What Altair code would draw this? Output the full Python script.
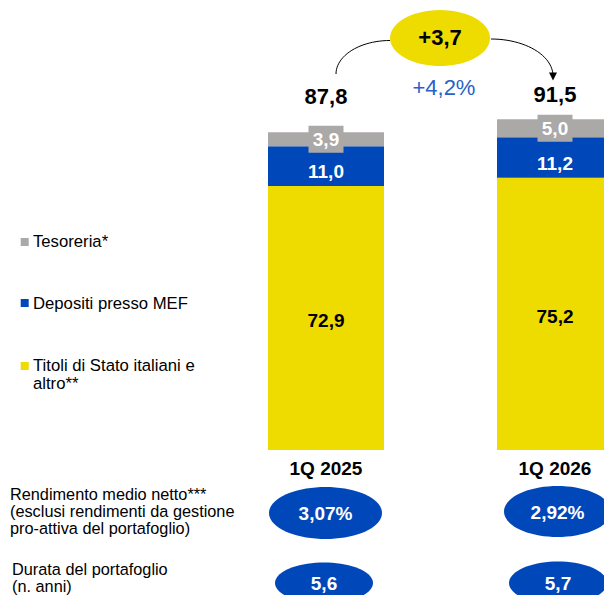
import math
import altair as alt
import pandas as pd

# ---------------- data ----------------
categories = ["1Q 2025", "1Q 2026"]
series = ["Titoli di Stato italiani e altro**", "Depositi presso MEF", "Tesoreria*"]
titoli = [72.9, 75.2]
depositi = [11.0, 11.2]
tesoreria = [3.9, 5.0]
totals = [87.8, 91.5]
delta_abs = 3.7
delta_pct = 4.2
rendimento = [3.07, 2.92]
durata = [5.6, 5.7]

legend_lines = [["Tesoreria*"], ["Depositi presso MEF"], ["Titoli di Stato italiani e", "altro**"]]
row_labels = [["Rendimento medio netto***", "(esclusi rendimenti da gestione", "pro-attiva del portafoglio)"],
              ["Durata del portafoglio", "(n. anni)"]]

# ---------------- style ----------------
YELLOW = "#EEDB00"
BLUE = "#0048BA"
GREY = "#ABA8A8"
PCT_BLUE = "#2862C6"
FONT = "Liberation Sans"
W, H = 596, 587

# scales: slot 0/1 for the two periods, y in bn of euro
PX_X = 229.0          # px per slot unit
PX_Y = 3.62           # px per unit of value
X0_PX, Y0_PX = 326.0, 450.0
xdom = [(8 - X0_PX) / PX_X, (8 + W - X0_PX) / PX_X]
ydom = [(Y0_PX - 8 - H) / PX_Y, (Y0_PX - 8) / PX_Y]
xs = alt.Scale(domain=xdom, nice=False, zero=False, padding=0)
ys = alt.Scale(domain=ydom, nice=False, zero=False, padding=0)


def fmt(v, d=1):
    return f"{v:.{d}f}".replace(".", ",")


def ellipse_path(ratio, n=72):
    pts = [(math.cos(2 * math.pi * i / n), ratio * math.sin(2 * math.pi * i / n)) for i in range(n)]
    return "M" + "L".join(f"{a:.4f},{b:.4f}" for a, b in pts) + "Z"


def rect_path(ratio):
    return f"M-1,{-ratio:.4f}L1,{-ratio:.4f}L1,{ratio:.4f}L-1,{ratio:.4f}Z"


X = lambda f="x": alt.X(f"{f}:Q", scale=xs, axis=None)
Y = lambda f="y": alt.Y(f"{f}:Q", scale=ys, axis=None)

# ---------------- stacked bars ----------------
rows = []
for i, c in enumerate(categories):
    base = 0.0
    for s, vals, tc in zip(series, [titoli, depositi, tesoreria], ["#000000", "#FFFFFF", "#FFFFFF"]):
        v = vals[i]
        rows.append(dict(cat=c, x=i, series=s, y=base, y2=base + v, mid=base + v / 2,
                         label=fmt(v), tc=tc))
        base += v
bars_df = pd.DataFrame(rows)

bars = alt.Chart(bars_df).mark_bar(size=116, clip=True).encode(
    x=X(), y=Y(), y2="y2:Q",
    color=alt.Color("series:N", scale=alt.Scale(domain=series, range=[YELLOW, BLUE, GREY]), legend=None),
)

grey_df = bars_df[bars_df.series == series[2]]
grey_box = alt.Chart(grey_df).mark_point(
    shape=rect_path(27 / 35), size=35 * 35, filled=True, opacity=1, color=GREY, strokeWidth=0
).encode(x=X(), y=Y("mid"))

seg_common = dict(font=FONT, fontSize=19, fontWeight="bold", align="center", baseline="middle")
seg_yellow = alt.Chart(bars_df[bars_df.series == series[0]]).mark_text(dy=3, **seg_common).encode(
    x=X(), y=Y("mid"), text="label:N", color=alt.Color("tc:N", scale=None))
seg_blue = alt.Chart(bars_df[bars_df.series == series[1]]).mark_text(dy=6, **seg_common).encode(
    x=X(), y=Y("mid"), text="label:N", color=alt.Color("tc:N", scale=None))
seg_grey = alt.Chart(grey_df).mark_text(dy=1, **seg_common).encode(
    x=X(), y=Y("mid"), text="label:N", color=alt.Color("tc:N", scale=None))

# ---------------- totals ----------------
tot_df = pd.DataFrame(dict(x=[0, 1], y=[97.5, 98.1], label=[fmt(t) for t in totals]))
tot_text = alt.Chart(tot_df).mark_text(font=FONT, fontSize=22, fontWeight="bold", baseline="middle",
                                       color="black").encode(x=X(), y=Y(), text="label:N")

cat_df = pd.DataFrame(dict(x=[0, 1], y=[-5.3, -5.3], label=categories))
cat_text = alt.Chart(cat_df).mark_text(font=FONT, fontSize=19, fontWeight="bold", baseline="middle",
                                       color="black").encode(x=X(), y=Y(), text="label:N")

# ---------------- delta bubble and arrows ----------------
delta_df = pd.DataFrame(dict(x=[0.498], y=[113.8], label=[f"+{fmt(delta_abs)}"]))
delta_ell = alt.Chart(delta_df).mark_point(
    shape=ellipse_path(56 / 100), size=100 * 100, filled=True, opacity=1, color=YELLOW, strokeWidth=0
).encode(x=X(), y=Y())
delta_txt = alt.Chart(delta_df).mark_text(font=FONT, fontSize=22, fontWeight="bold", baseline="middle",
                                          color="black").encode(x=X(), y=Y(), text="label:N")
pct_df = pd.DataFrame(dict(x=[0.515], y=[100.0], label=[f"+{fmt(delta_pct)}%"]))
pct_txt = alt.Chart(pct_df).mark_text(font=FONT, fontSize=22, baseline="middle",
                                      color=PCT_BLUE).encode(x=X(), y=Y(), text="label:N")

n = 24
arc_rows = []
# left arc: from top of first total up into the bubble
lx0, ly0 = (336 - X0_PX) / PX_X, (Y0_PX - 74) / PX_Y
lx1, ly1 = (390 - X0_PX) / PX_X, (Y0_PX - 40.5) / PX_Y
for k in range(n + 1):
    t = (math.pi / 2) * k / n
    arc_rows.append(dict(arc="L", o=k, x=lx1 - (lx1 - lx0) * math.cos(t), y=ly0 + (ly1 - ly0) * math.sin(t)))
# right arc: from the bubble down to the second total
rx0, ry0 = (491 - X0_PX) / PX_X, (Y0_PX - 39) / PX_Y
rx1, ry1 = (553 - X0_PX) / PX_X, (Y0_PX - 76) / PX_Y
for k in range(n + 1):
    t = (math.pi / 2) * k / n
    arc_rows.append(dict(arc="R", o=k, x=rx0 + (rx1 - rx0) * math.sin(t), y=ry1 + (ry0 - ry1) * math.cos(t)))
arc_df = pd.DataFrame(arc_rows)
arcs = alt.Chart(arc_df).mark_line(color="black", strokeWidth=1).encode(
    x=X(), y=Y(), detail="arc:N", order="o:Q")
head_df = pd.DataFrame(dict(x=[rx1], y=[(Y0_PX - 76.5) / PX_Y]))
head = alt.Chart(head_df).mark_point(shape="M-1,-1L1,-1L0,1Z", size=64, filled=True, opacity=1,
                                     color="black", strokeWidth=0).encode(x=X(), y=Y())

# ---------------- blue bubbles (yield, duration) ----------------
bub_rows = []
for i in range(2):
    bub_rows.append(dict(x=i + (-0.5 if i == 0 else 2.5) / PX_X, y=(Y0_PX - 513 + 1.5 * i) / PX_Y,
                         w=[113, 107][i], h=[52, 51][i], label=fmt(rendimento[i], 2) + "%"))
    bub_rows.append(dict(x=i + (-2 if i == 0 else 3) / PX_X, y=(Y0_PX - 583) / PX_Y,
                         w=98, h=[41, 43][i], label=fmt(durata[i])))
bub_df = pd.DataFrame(bub_rows)
bub_df["shape"] = [ellipse_path(h / w) for w, h in zip(bub_df.w, bub_df.h)]
bub_df["sz"] = bub_df.w ** 2
bubbles = alt.Chart(bub_df).mark_point(filled=True, opacity=1, color=BLUE, strokeWidth=0).encode(
    x=X(), y=Y(), shape=alt.Shape("shape:N", scale=None), size=alt.Size("sz:Q", scale=None))
bub_txt = alt.Chart(bub_df).mark_text(font=FONT, fontSize=19, fontWeight="bold", baseline="middle",
                                      color="white", dy=1).encode(x=X(), y=Y(), text="label:N")

# ---------------- left-hand legend and row labels ----------------
leg_sq_df = pd.DataFrame(dict(series=series[::-1],
                              x=[(24.7 - X0_PX) / PX_X] * 3,
                              y=[(Y0_PX - v) / PX_Y for v in [242, 303, 366]]))
leg_sq = alt.Chart(leg_sq_df).mark_point(shape="square", size=64, filled=True, opacity=1, strokeWidth=0).encode(
    x=X(), y=Y(), color=alt.Color("series:N", scale=alt.Scale(domain=series, range=[YELLOW, BLUE, GREY]),
                                  legend=None))

txt_rows = []
leg_base = [[246.7], [309.3], [370.5, 388.5]]
for lines, bases in zip(legend_lines, leg_base):
    for t, b in zip(lines, bases):
        txt_rows.append(dict(x=(33 - X0_PX) / PX_X, y=(Y0_PX - b) / PX_Y, label=t, fs=16.7))
row_base = [[500, 517, 534], [575, 591.5]]
row_x = [10, 12]
row_fs = [16.3, 16.3]
for lines, bases, rx, fs in zip(row_labels, row_base, row_x, row_fs):
    for t, b in zip(lines, bases):
        txt_rows.append(dict(x=(rx - X0_PX) / PX_X, y=(Y0_PX - b) / PX_Y, label=t, fs=fs))
txt_df = pd.DataFrame(txt_rows)
left_txt = alt.Chart(txt_df).mark_text(font=FONT, align="left", baseline="alphabetic",
                                       color="black").encode(
    x=X(), y=Y(), text="label:N", size=alt.Size("fs:Q", scale=None))

chart = alt.layer(
    bars, grey_box, seg_yellow, seg_blue, seg_grey, tot_text, cat_text,
    arcs, head, delta_ell, delta_txt, pct_txt, bubbles, bub_txt, leg_sq, left_txt
).properties(
    width=W, height=H, padding=0, autosize=alt.AutoSizeParams(type="none")
).configure_view(stroke=None)

chart.save("out.html", embed_options={"renderer": "svg", "actions": False})
